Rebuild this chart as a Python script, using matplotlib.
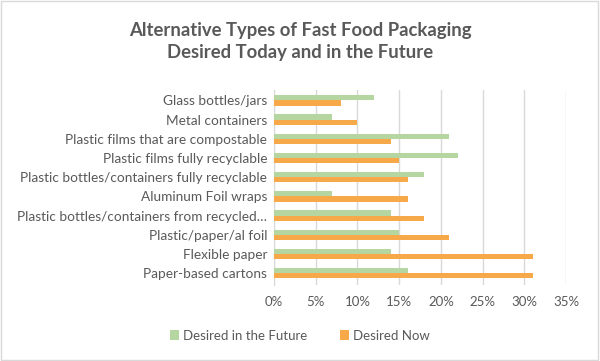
import matplotlib.pyplot as plt
import numpy as np
from matplotlib.patches import Rectangle

plt.rcParams['font.family'] = ['Lato', 'DejaVu Sans']

# Data (top to bottom as shown)
categories = [
    'Glass bottles/jars',
    'Metal containers',
    'Plastic films that are compostable',
    'Plastic films fully recyclable',
    'Plastic bottles/containers fully recyclable',
    'Aluminum Foil wraps',
    'Plastic bottles/containers from recycled…',
    'Plastic/paper/al foil',
    'Flexible paper',
    'Paper-based cartons',
]
future = [12, 7, 21, 22, 18, 7, 14, 15, 14, 16]
now = [8, 10, 14, 15, 16, 16, 18, 21, 31, 31]
xticks = [0, 5, 10, 15, 20, 25, 30, 35]

green = '#B5D6A0'
orange = '#F7A94A'
text_color = '#595959'

fig = plt.figure(figsize=(6, 3.61), dpi=100)
ax = fig.add_axes([0.4567, 0.21, 0.4867, 0.541])

y = np.arange(len(categories))
h = 0.27
ax.barh(y - h / 2, future, height=h, color=green, label='Desired in the Future', zorder=3)
ax.barh(y + h / 2, now, height=h, color=orange, label='Desired Now', zorder=3)

ax.set_ylim(len(categories) - 1 + 0.62, -0.55)
ax.set_xlim(0, 35)
ax.set_yticks(y)
ax.set_yticklabels(categories, fontsize=9.8, color=text_color)
ax.set_xticks(xticks)
ax.set_xticklabels([f'{t}%' for t in xticks], fontsize=9.5, color=text_color)
ax.tick_params(length=0, pad=8)
ax.tick_params(axis='y', pad=5)
ax.grid(axis='x', color='#D9D9D9', linewidth=1, zorder=0)
for s in ['top', 'right', 'bottom']:
    ax.spines[s].set_visible(False)
ax.spines['left'].set_color('#D9D9D9')

fig.text(0.5, 0.885, 'Alternative Types of Fast Food Packaging\nDesired Today and in the Future',
         ha='center', va='center', fontsize=13.3, fontweight='bold', color=text_color,
         linespacing=1.35)

fig.legend(loc='center', bbox_to_anchor=(0.5, 0.07), ncol=2, frameon=False,
           fontsize=9.5, labelcolor=text_color, handlelength=0.7, handleheight=0.7,
           handletextpad=0.3, columnspacing=2.5)

fig.patches.append(Rectangle((0.002, 0.003), 0.995, 0.994, transform=fig.transFigure,
                             fill=False, edgecolor='#D9D9D9', linewidth=1))

plt.savefig('out.png', dpi=100)
plt.close()
